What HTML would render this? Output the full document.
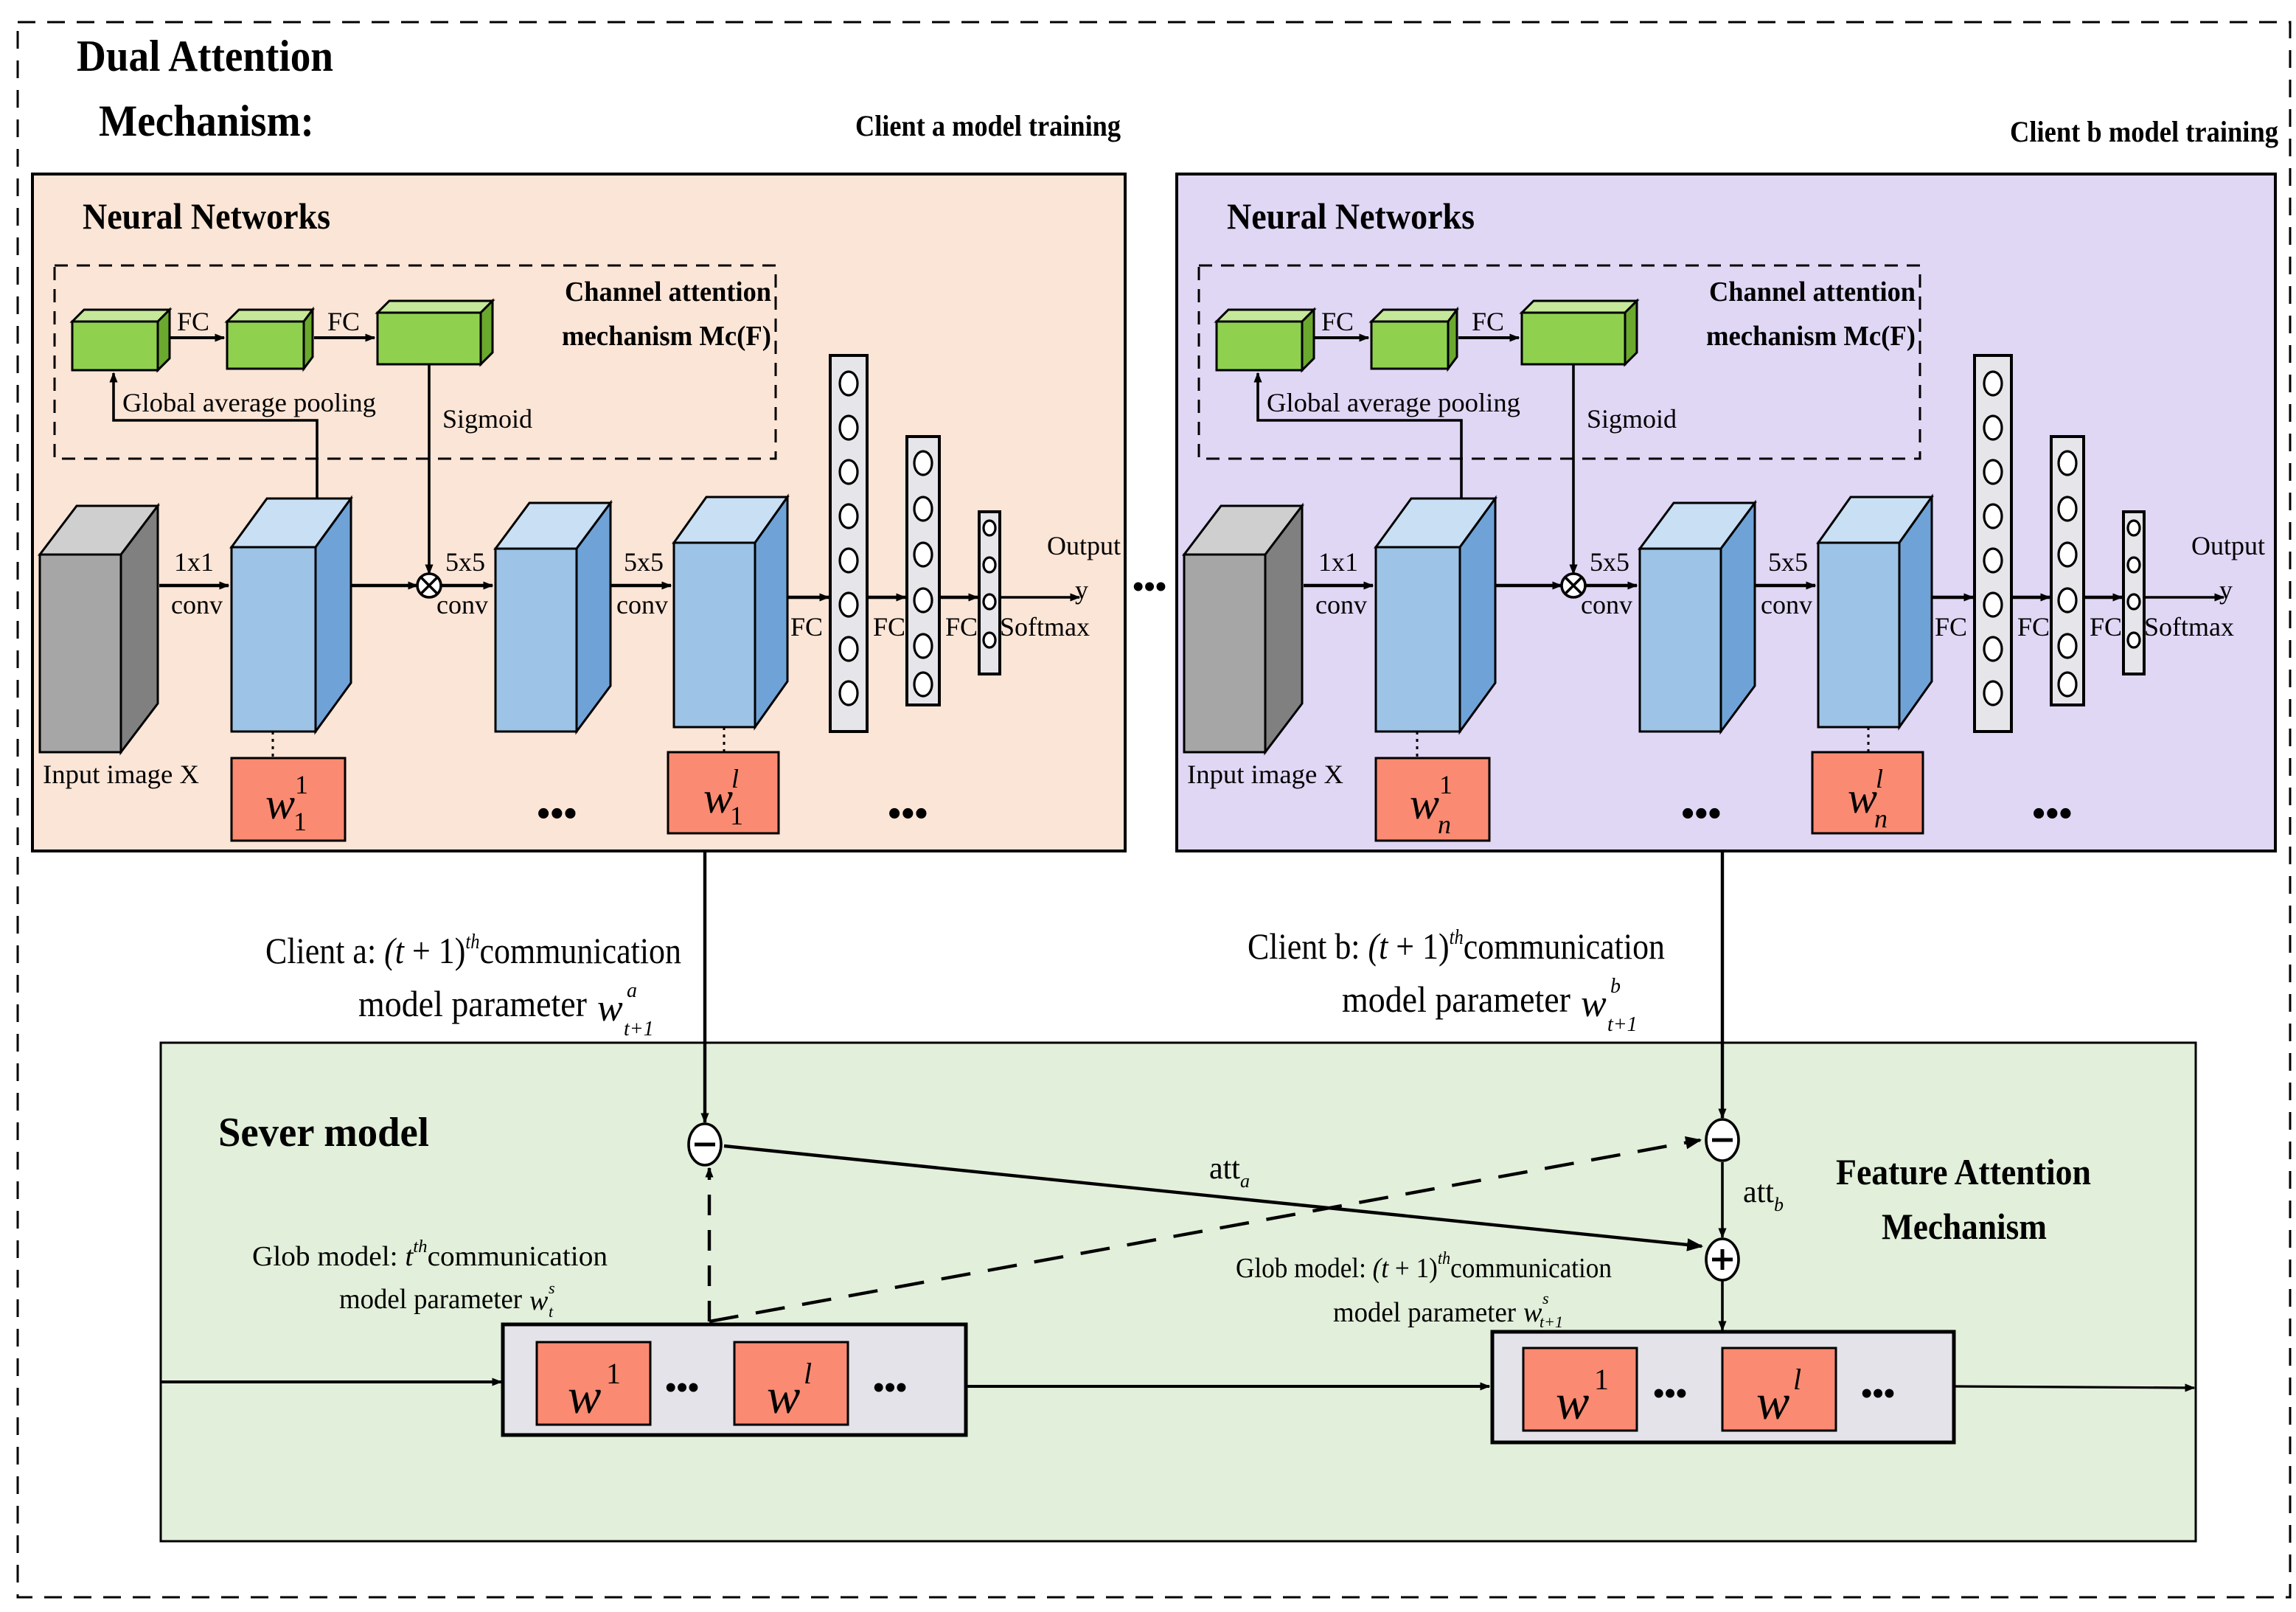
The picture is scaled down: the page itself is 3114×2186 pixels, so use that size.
<!DOCTYPE html>
<html><head><meta charset="utf-8">
<style>
html,body{margin:0;padding:0;background:#fff;}
svg{display:block;}
text{font-family:"Liberation Serif",serif;fill:#000;}
.b{font-weight:bold;}
</style></head>
<body>
<svg width="3114" height="2186" viewBox="0 0 1557 1093" xmlns="http://www.w3.org/2000/svg">
<defs>
<marker id="ar" viewBox="0 0 10 10" refX="9" refY="5" markerWidth="7" markerHeight="7" orient="auto-start-reverse" markerUnits="userSpaceOnUse"><path d="M0,1 L10,5 L0,9 z" fill="#000"/></marker>
<marker id="ar2" viewBox="0 0 10 10" refX="9" refY="5" markerWidth="11" markerHeight="11" orient="auto" markerUnits="userSpaceOnUse"><path d="M0,1 L10,5 L0,9 z" fill="#000"/></marker>
<g id="panel">
  <text x="34" y="37" class="b" font-size="25" textLength="168" lengthAdjust="spacingAndGlyphs">Neural Networks</text>
  <rect x="15" y="62" width="489" height="131" fill="none" stroke="#000" stroke-width="1.5" stroke-dasharray="9,6"/>
  <text x="361" y="86" class="b" font-size="19" textLength="140" lengthAdjust="spacingAndGlyphs">Channel attention</text>
  <text x="359" y="116" class="b" font-size="19" textLength="142" lengthAdjust="spacingAndGlyphs">mechanism Mc(F)</text>
  <!-- green boxes -->
  <g stroke="#000" stroke-width="1.5">
    <polygon points="27,100 35,92 93,92 85,100" fill="#c5e89a"/><polygon points="85,100 93,92 93,125 85,133" fill="#6aa82e"/><rect x="27" y="100" width="58" height="33" fill="#8fd14f"/>
    <polygon points="132,100 140,92 190,92 184,100" fill="#c5e89a"/><polygon points="184,100 190,92 190,124 184,132" fill="#6aa82e"/><rect x="132" y="100" width="52" height="32" fill="#8fd14f"/>
    <polygon points="234,94 242,86 312,86 304,94" fill="#c5e89a"/><polygon points="304,94 312,86 312,121 304,129" fill="#6aa82e"/><rect x="234" y="94" width="70" height="35" fill="#8fd14f"/>
  </g>
  <line x1="93" y1="111" x2="130" y2="111" stroke="#000" stroke-width="2" marker-end="url(#ar)"/>
  <line x1="191" y1="111" x2="232" y2="111" stroke="#000" stroke-width="2" marker-end="url(#ar)"/>
  <text x="98" y="106" font-size="18">FC</text>
  <text x="200" y="106" font-size="18">FC</text>
  <text x="61" y="161" font-size="18" textLength="172" lengthAdjust="spacingAndGlyphs">Global average pooling</text>
  <text x="278" y="172" font-size="18">Sigmoid</text>
  <!-- feedback lines -->
  <polyline points="193,222 193,167 55,167 55,135" fill="none" stroke="#000" stroke-width="1.8" marker-end="url(#ar)"/>
  <line x1="269" y1="129" x2="269" y2="271" stroke="#000" stroke-width="1.8" marker-end="url(#ar)"/>
  <!-- gray cube -->
  <g stroke="#000" stroke-width="1.5">
    <polygon points="5,258 30,225 85,225 60,258" fill="#cfcfcf"/>
    <polygon points="60,258 85,225 85,359 60,392" fill="#808080"/>
    <rect x="5" y="258" width="55" height="134" fill="#a6a6a6"/>
  </g>
  <text x="7" y="413" font-size="18" textLength="106" lengthAdjust="spacingAndGlyphs">Input image X</text>
  <!-- blue cubes -->
  <g stroke="#000" stroke-width="1.5">
    <polygon points="135,253 159,220 216,220 192,253" fill="#c9dff3"/><polygon points="192,253 216,220 216,345 192,378" fill="#6fa3d8"/><rect x="135" y="253" width="57" height="125" fill="#9dc3e6"/>
    <polygon points="314,254 337,223 392,223 369,254" fill="#c9dff3"/><polygon points="369,254 392,223 392,347 369,378" fill="#6fa3d8"/><rect x="314" y="254" width="55" height="124" fill="#9dc3e6"/>
    <polygon points="435,250 457,219 512,219 490,250" fill="#c9dff3"/><polygon points="490,250 512,219 512,344 490,375" fill="#6fa3d8"/><rect x="435" y="250" width="55" height="125" fill="#9dc3e6"/>
  </g>
  <!-- arrows -->
  <g stroke="#000" stroke-width="2.2">
    <line x1="86" y1="279" x2="133" y2="279" marker-end="url(#ar)"/>
    <line x1="216" y1="279" x2="261" y2="279" marker-end="url(#ar)"/>
    <line x1="277" y1="279" x2="312" y2="279" marker-end="url(#ar)"/>
    <line x1="392" y1="279" x2="433" y2="279" marker-end="url(#ar)"/>
    <line x1="512" y1="287" x2="540" y2="287" marker-end="url(#ar)"/>
    <line x1="566" y1="287" x2="592" y2="287" marker-end="url(#ar)"/>
    <line x1="615" y1="287" x2="641" y2="287" marker-end="url(#ar)"/>
    <line x1="656" y1="287" x2="710" y2="287" stroke-width="1.8" marker-end="url(#ar)"/>
  </g>
  <circle cx="269" cy="279" r="8" fill="#fff" stroke="#000" stroke-width="1.8"/>
  <path d="M263.5,273.5 L274.5,284.5 M274.5,273.5 L263.5,284.5" stroke="#000" stroke-width="1.8"/>
  <text x="96" y="269" font-size="18">1x1</text><text x="94" y="298" font-size="18">conv</text>
  <text x="280" y="269" font-size="18">5x5</text><text x="274" y="298" font-size="18">conv</text>
  <text x="401" y="269" font-size="18">5x5</text><text x="396" y="298" font-size="18">conv</text>
  <text x="514" y="313" font-size="18">FC</text><text x="570" y="313" font-size="18">FC</text><text x="619" y="313" font-size="18">FC</text>
  <text x="656" y="313" font-size="18">Softmax</text>
  <text x="688" y="258" font-size="18">Output</text>
  <text x="707" y="288" font-size="18">y</text>
  <!-- FC bars -->
  <g stroke="#000" stroke-width="2" fill="#e5e5ea">
    <rect x="541" y="123" width="25" height="255"/>
    <rect x="593" y="178" width="22" height="182"/>
    <rect x="642" y="229" width="14" height="110"/>
  </g>
  <g stroke="#000" stroke-width="1.6" fill="#fff">
    <ellipse cx="553.5" cy="142" rx="6" ry="8"/><ellipse cx="553.5" cy="172" rx="6" ry="8"/><ellipse cx="553.5" cy="202" rx="6" ry="8"/><ellipse cx="553.5" cy="232" rx="6" ry="8"/><ellipse cx="553.5" cy="262" rx="6" ry="8"/><ellipse cx="553.5" cy="292" rx="6" ry="8"/><ellipse cx="553.5" cy="322" rx="6" ry="8"/><ellipse cx="553.5" cy="352" rx="6" ry="8"/>
    <ellipse cx="604" cy="196" rx="6" ry="8"/><ellipse cx="604" cy="227" rx="6" ry="8"/><ellipse cx="604" cy="258" rx="6" ry="8"/><ellipse cx="604" cy="289" rx="6" ry="8"/><ellipse cx="604" cy="320" rx="6" ry="8"/><ellipse cx="604" cy="346" rx="6" ry="8"/>
    <ellipse cx="649" cy="240" rx="4" ry="5"/><ellipse cx="649" cy="265" rx="4" ry="5"/><ellipse cx="649" cy="290" rx="4" ry="5"/><ellipse cx="649" cy="316" rx="4" ry="5"/>
  </g>
  <!-- dotted links -->
  <line x1="163" y1="378" x2="163" y2="396" stroke="#000" stroke-width="1.5" stroke-dasharray="2,3"/>
  <line x1="469" y1="375" x2="469" y2="392" stroke="#000" stroke-width="1.5" stroke-dasharray="2,3"/>
  <text x="342" y="442" class="b" font-size="26">•••</text>
  <text x="580" y="442" class="b" font-size="26">•••</text>
</g>
</defs>

<rect x="12" y="15" width="1541" height="1068" fill="none" stroke="#000" stroke-width="1.5" stroke-dasharray="12,8"/>
<text x="52" y="48" class="b" font-size="30" textLength="174" lengthAdjust="spacingAndGlyphs">Dual Attention</text>
<text x="67" y="92" class="b" font-size="30" textLength="146" lengthAdjust="spacingAndGlyphs">Mechanism:</text>
<text x="580" y="92" class="b" font-size="20" textLength="180" lengthAdjust="spacingAndGlyphs">Client a model training</text>
<text x="1363" y="96" class="b" font-size="20" textLength="182" lengthAdjust="spacingAndGlyphs">Client b model training</text>

<rect x="22" y="118" width="741" height="459" fill="#fbe5d6" stroke="#000" stroke-width="2"/>
<rect x="798" y="118" width="745" height="459" fill="#e0d7f5" stroke="#000" stroke-width="2"/>
<use href="#panel" x="22" y="118"/>
<use href="#panel" x="798" y="118"/>

<!-- weight boxes top -->
<g stroke="#000" stroke-width="1.5" fill="#fa8a72">
  <rect x="157" y="514" width="77" height="56"/><rect x="453" y="510" width="75" height="55"/>
  <rect x="933" y="514" width="77" height="56"/><rect x="1229" y="510" width="75" height="55"/>
</g>
<g font-size="30" font-style="italic">
  <text x="180" y="555">w</text><text x="200" y="538" font-size="18" font-style="normal">1</text><text x="199" y="563" font-size="18" font-style="normal">1</text>
  <text x="477" y="551">w</text><text x="496" y="534" font-size="18">l</text><text x="495" y="559" font-size="18" font-style="normal">1</text>
  <text x="956" y="555">w</text><text x="976" y="538" font-size="18" font-style="normal">1</text><text x="975" y="565" font-size="18">n</text>
  <text x="1253" y="551">w</text><text x="1272" y="534" font-size="18">l</text><text x="1271" y="561" font-size="18">n</text>
</g>
<text x="768" y="405" class="b" font-size="22">•••</text>

<!-- bottom panel -->
<rect x="109" y="707" width="1380" height="338" fill="#e2efda" stroke="#000" stroke-width="1.5"/>
<text x="180" y="653" font-size="25" textLength="282" lengthAdjust="spacingAndGlyphs">Client a: <tspan font-style="italic">(t</tspan> + 1)<tspan font-size="14" dy="-10" font-style="italic">th</tspan><tspan dy="10">communication</tspan></text>
<text x="243" y="689" font-size="25" textLength="155" lengthAdjust="spacingAndGlyphs">model parameter</text>
<text x="405" y="692" font-size="26" font-style="italic">w</text><text x="425" y="676" font-size="14" font-style="italic">a</text><text x="423" y="702" font-size="14" font-style="italic">t+1</text>
<text x="846" y="650" font-size="25" textLength="283" lengthAdjust="spacingAndGlyphs">Client b: <tspan font-style="italic">(t</tspan> + 1)<tspan font-size="14" dy="-10" font-style="italic">th</tspan><tspan dy="10">communication</tspan></text>
<text x="910" y="686" font-size="25" textLength="155" lengthAdjust="spacingAndGlyphs">model parameter</text>
<text x="1072" y="689" font-size="26" font-style="italic">w</text><text x="1092" y="673" font-size="14" font-style="italic">b</text><text x="1090" y="699" font-size="14" font-style="italic">t+1</text>

<text x="148" y="777" class="b" font-size="28" textLength="143" lengthAdjust="spacingAndGlyphs">Sever model</text>
<text x="1245" y="803" class="b" font-size="25" textLength="173" lengthAdjust="spacingAndGlyphs">Feature Attention</text>
<text x="1276" y="840" class="b" font-size="25" textLength="112" lengthAdjust="spacingAndGlyphs">Mechanism</text>

<text x="171" y="858" font-size="19" textLength="241" lengthAdjust="spacingAndGlyphs">Glob model:   <tspan font-style="italic">t</tspan><tspan font-size="12" dy="-9" font-style="italic">th</tspan><tspan dy="9">communication</tspan></text>
<text x="230" y="887" font-size="19" textLength="124" lengthAdjust="spacingAndGlyphs">model parameter</text>
<text x="359" y="888" font-size="19" font-style="italic">w</text><text x="372" y="877" font-size="11" font-style="italic">s</text><text x="372" y="893" font-size="11" font-style="italic">t</text>
<text x="838" y="866" font-size="19" textLength="255" lengthAdjust="spacingAndGlyphs">Glob model: <tspan font-style="italic">(t</tspan> + 1)<tspan font-size="12" dy="-9" font-style="italic">th</tspan><tspan dy="9">communication</tspan></text>
<text x="904" y="896" font-size="19" textLength="124" lengthAdjust="spacingAndGlyphs">model parameter</text>
<text x="1033" y="896" font-size="19" font-style="italic">w</text><text x="1046" y="884" font-size="11" font-style="italic">s</text><text x="1044" y="900" font-size="11" font-style="italic">t+1</text>

<text x="820" y="799" font-size="21">att<tspan font-size="13" font-style="italic" dy="6">a</tspan></text>
<text x="1182" y="815" font-size="21">att<tspan font-size="13" font-style="italic" dy="6">b</tspan></text>

<!-- connectors -->
<g stroke="#000" stroke-width="2.2">
  <line x1="478" y1="578" x2="478" y2="761" marker-end="url(#ar)"/>
  <line x1="1168" y1="578" x2="1168" y2="758" marker-end="url(#ar)"/>
  <line x1="481" y1="896" x2="481" y2="792" stroke-dasharray="14,10" marker-end="url(#ar)"/>
  <line x1="481" y1="896" x2="1153" y2="773" stroke-dasharray="20,12" marker-end="url(#ar2)"/>
  <line x1="491" y1="777" x2="1154" y2="845" marker-end="url(#ar2)"/>
  <line x1="1168" y1="788" x2="1168" y2="839" stroke-width="1.8" marker-end="url(#ar)"/>
  <line x1="1168" y1="868" x2="1168" y2="902" stroke-width="1.8" marker-end="url(#ar)"/>
  <line x1="109" y1="937" x2="340" y2="937" stroke-width="2" marker-end="url(#ar)"/>
  <line x1="656" y1="940" x2="1010" y2="940" stroke-width="2" marker-end="url(#ar)"/>
  <line x1="1326" y1="940" x2="1488" y2="941" stroke-width="1.6" marker-end="url(#ar)"/>
</g>
<g stroke="#000" stroke-width="1.8" fill="#fff">
  <ellipse cx="478" cy="776" rx="11" ry="14"/>
  <ellipse cx="1168" cy="773" rx="11" ry="14"/>
  <ellipse cx="1168" cy="854" rx="11" ry="14"/>
</g>
<g stroke="#000" stroke-width="2.5">
  <line x1="471" y1="776" x2="485" y2="776"/>
  <line x1="1161" y1="773" x2="1175" y2="773"/>
  <line x1="1161" y1="854" x2="1175" y2="854"/><line x1="1168" y1="847" x2="1168" y2="861"/>
</g>

<!-- server boxes -->
<rect x="341" y="898" width="314" height="75" fill="#e5e3ea" stroke="#000" stroke-width="2.5"/>
<rect x="1012" y="903" width="313" height="75" fill="#e5e3ea" stroke="#000" stroke-width="2.5"/>
<g stroke="#000" stroke-width="1.5" fill="#fa8a72">
  <rect x="364" y="910" width="77" height="56"/><rect x="498" y="910" width="77" height="56"/>
  <rect x="1033" y="914" width="77" height="56"/><rect x="1168" y="914" width="77" height="56"/>
</g>
<g font-size="34" font-style="italic">
  <text x="385" y="958">w</text><text x="411" y="938" font-size="20" font-style="normal">1</text>
  <text x="520" y="958">w</text><text x="545" y="938" font-size="20">l</text>
  <text x="1055" y="962">w</text><text x="1081" y="942" font-size="20" font-style="normal">1</text>
  <text x="1191" y="962">w</text><text x="1216" y="942" font-size="20">l</text>
</g>
<g class="b" font-size="22">
  <text x="451" y="948">•••</text><text x="592" y="948">•••</text>
  <text x="1121" y="952">•••</text><text x="1262" y="952">•••</text>
</g>
</svg>
</body></html>
